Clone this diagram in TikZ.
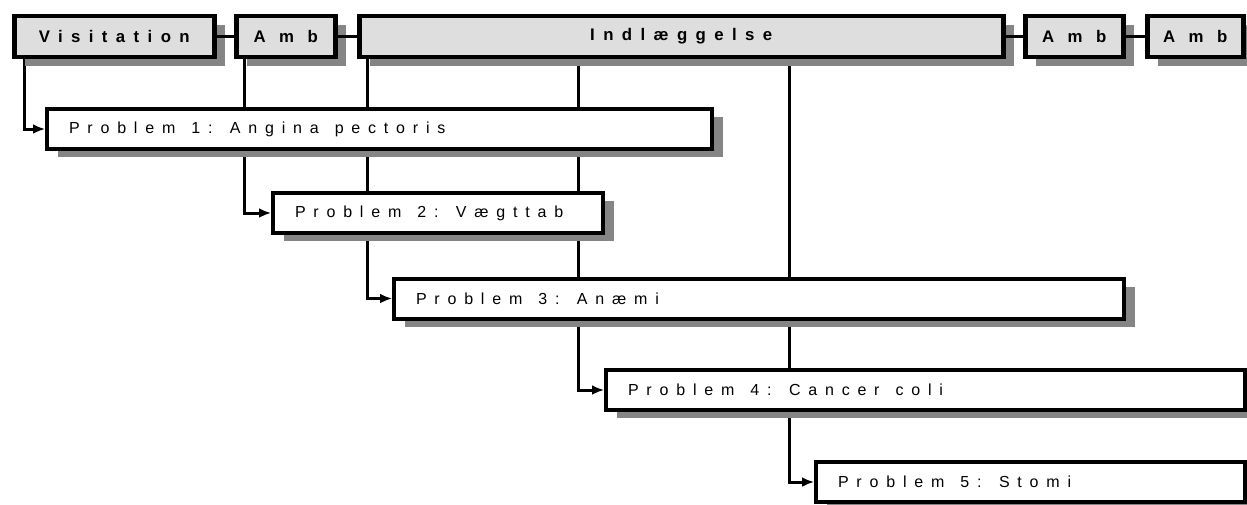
\documentclass[tikz,border=0pt]{standalone}
\usepackage{fontspec}
\setmainfont{Liberation Sans}
\newfontfamily\topfont[LetterSpace=50]{Liberation Sans}
\newfontfamily\ambfont[LetterSpace=80]{Liberation Sans}
\newfontfamily\probfont[WordSpace=3.6]{Liberation Sans}
% spread letters of the problem texts
\DeclareRobustCommand\probtext{\probfont\fontsize{16}{19}\selectfont
    \XeTeXinterchartokenstate=1
    \XeTeXinterchartoks 0 0 = {\kern7.8pt}}
\usetikzlibrary{arrows.meta}
\usetikzlibrary{shadows,backgrounds}
\usetikzlibrary{positioning}
\definecolor{boxgray}{HTML}{DEDEDE}
\definecolor{shadowgray}{HTML}{858585}
\tikzset{
    topbox/.style={draw=black, line width=4.5pt, fill=boxgray, anchor=west,
        minimum height=41pt, inner sep=0pt,
        font=\topfont\bfseries\fontsize{16.8}{20}\selectfont,
        drop shadow={shadow xshift=11pt, shadow yshift=-9pt, fill=shadowgray, opacity=1}},
    ambbox/.style={topbox, font=\ambfont\bfseries\fontsize{16.8}{20}\selectfont},
    probbox/.style={draw=black, line width=4pt, fill=white, anchor=west,
        minimum height=40pt, inner xsep=22pt, align=flush left, font=\probtext,
        drop shadow={shadow xshift=11pt, shadow yshift=-8pt, fill=shadowgray, opacity=1}},
    link/.style={draw=black, line width=3pt},
    probarrow/.style={link, -{Latex[length=12pt,width=10pt]}}
}
\begin{document}
\begin{tikzpicture}[x=1pt,y=-1pt]
    \useasboundingbox (0,0) rectangle (1247,504);
    % top row
    \node[topbox, minimum width=200pt] (visit) at (12,36.5) {Visitation};
    \node[ambbox, minimum width=99pt] (amb1) at (234,36.5) {Amb};
    \node[topbox, minimum width=644pt] (indl) at (357,36.5) {Indlæggelse};
    \node[ambbox, minimum width=98pt] (amb2) at (1023,36.5) {Amb};
    \node[ambbox, minimum width=96pt] (amb3) at (1145,36.5) {Amb};
    \draw[link] (visit.east) -- (amb1.west);
    \draw[link] (amb1.east) -- (indl.west);
    \draw[link] (indl.east) -- (amb2.west);
    \draw[link] (amb2.east) -- (amb3.west);
    % problems
    \node[probbox, text width=621pt] (p1) at (45,129) {Problem 1: Angina pectoris};
    \node[probbox, text width=286pt] (p2) at (271,213) {Problem 2: Vægttab};
    \node[probbox, text width=686pt] (p3) at (392,298.5) {Problem 3: Anæmi};
    \node[probbox, text width=595pt] (p4) at (604,390) {Problem 4: Cancer coli};
    \node[probbox, text width=385pt] (p5) at (814,482) {Problem 5: Stomi};
    \begin{scope}[on background layer]
        \draw[probarrow] ([xshift=12pt]visit.south west) |- (p1.west);
        \draw[probarrow] ([xshift=10pt]amb1.south west) |- (p2.west);
        \draw[probarrow] ([xshift=10pt]indl.south west) |- (p3.west);
        \draw[probarrow] ([xshift=221pt]indl.south west) |- (p4.west);
        \draw[probarrow] ([xshift=432pt]indl.south west) |- (p5.west);
    \end{scope}
\end{tikzpicture}
\end{document}
